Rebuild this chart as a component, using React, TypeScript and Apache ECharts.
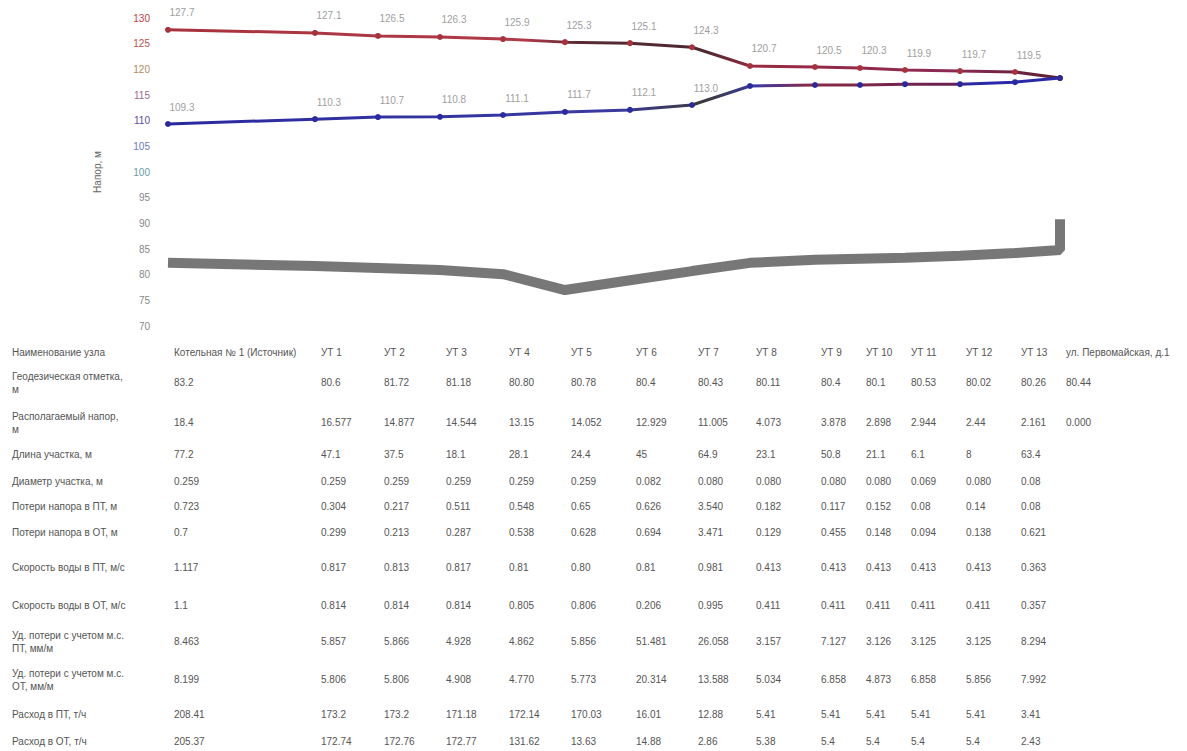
import React, { useEffect, useRef } from "react";
import * as echarts from "echarts";

const nodeNames = ["Котельная № 1 (Источник)", "УТ 1", "УТ 2", "УТ 3", "УТ 4", "УТ 5", "УТ 6", "УТ 7", "УТ 8", "УТ 9", "УТ 10", "УТ 11", "УТ 12", "УТ 13", "ул. Первомайская, д.1"];
const chainage = [0, 147, 210, 272, 335, 397, 462, 524, 582, 647, 692, 737, 792, 847, 892];
const supplyHead = [127.7, 127.1, 126.5, 126.3, 125.9, 125.3, 125.1, 124.3, 120.65, 120.45, 120.26, 119.87, 119.67, 119.48, 118.3];
const returnHead = [109.35, 110.3, 110.7, 110.75, 111.1, 111.7, 112.1, 113.05, 116.75, 116.95, 116.95, 117.1, 117.1, 117.5, 118.3];
const terrain = [82.3, 81.7, 81.3, 80.9, 80.1, 77.0, 78.9, 80.7, 82.3, 82.9, 83.1, 83.3, 83.7, 84.2, 84.8];
const terrainEnd = 90.8;
const yTickColors = ["#888", "#888", "#8a8a8a", "#888", "#888", "#888", "#6a9aa8", "#6a7ac8", "#5a4aa8", "#a06a90", "#b08a60", "#c05050", "#c04040"];

const elevation = ["83.2", "80.6", "81.72", "81.18", "80.80", "80.78", "80.4", "80.43", "80.11", "80.4", "80.1", "80.53", "80.02", "80.26", "80.44"];
const availableHead = ["18.4", "16.577", "14.877", "14.544", "13.15", "14.052", "12.929", "11.005", "4.073", "3.878", "2.898", "2.944", "2.44", "2.161", "0.000"];
const segLength = ["77.2", "47.1", "37.5", "18.1", "28.1", "24.4", "45", "64.9", "23.1", "50.8", "21.1", "6.1", "8", "63.4"];
const diameter = ["0.259", "0.259", "0.259", "0.259", "0.259", "0.259", "0.082", "0.080", "0.080", "0.080", "0.080", "0.069", "0.080", "0.08"];
const lossSupply = ["0.723", "0.304", "0.217", "0.511", "0.548", "0.65", "0.626", "3.540", "0.182", "0.117", "0.152", "0.08", "0.14", "0.08"];
const lossReturn = ["0.7", "0.299", "0.213", "0.287", "0.538", "0.628", "0.694", "3.471", "0.129", "0.455", "0.148", "0.094", "0.138", "0.621"];
const velSupply = ["1.117", "0.817", "0.813", "0.817", "0.81", "0.80", "0.81", "0.981", "0.413", "0.413", "0.413", "0.413", "0.413", "0.363"];
const velReturn = ["1.1", "0.814", "0.814", "0.814", "0.805", "0.806", "0.206", "0.995", "0.411", "0.411", "0.411", "0.411", "0.411", "0.357"];
const specSupply = ["8.463", "5.857", "5.866", "4.928", "4.862", "5.856", "51.481", "26.058", "3.157", "7.127", "3.126", "3.125", "3.125", "8.294"];
const specReturn = ["8.199", "5.806", "5.806", "4.908", "4.770", "5.773", "20.314", "13.588", "5.034", "6.858", "4.873", "6.858", "5.856", "7.992"];
const flowSupply = ["208.41", "173.2", "173.2", "171.18", "172.14", "170.03", "16.01", "12.88", "5.41", "5.41", "5.41", "5.41", "5.41", "3.41"];
const flowReturn = ["205.37", "172.74", "172.76", "172.77", "131.62", "13.63", "14.88", "2.86", "5.38", "5.4", "5.4", "5.4", "5.4", "2.43"];

const rowLabels = [
  "Наименование узла",
  "Геодезическая отметка,\nм",
  "Располагаемый напор,\nм",
  "Длина участка, м",
  "Диаметр участка, м",
  "Потери напора в ПТ, м",
  "Потери напора в ОТ, м",
  "Скорость воды в ПТ, м/с",
  "Скорость воды в ОТ, м/с",
  "Уд. потери с учетом м.с.\nПТ, мм/м",
  "Уд. потери с учетом м.с.\nОТ, мм/м",
  "Расход в ПТ, т/ч",
  "Расход в ОТ, т/ч",
];
const rowValues = [nodeNames, elevation, availableHead, segLength, diameter, lossSupply, lossReturn, velSupply, velReturn, specSupply, specReturn, flowSupply, flowReturn];
const rowY = [352, 382, 422, 454, 481, 506, 532, 567, 605, 641, 679, 714, 741];

export default function App() {
  const ref = useRef<HTMLDivElement>(null);
  useEffect(() => {
    const chart = echarts.init(ref.current!, null, { renderer: "svg" });
    const font = "'Liberation Sans', Arial, sans-serif";
    const redGrad = new echarts.graphic.LinearGradient(0, 0, 1, 0, [
      { offset: 0, color: "#a8323c" },
      { offset: 0.4, color: "#b03a48" },
      { offset: 0.46, color: "#5a2a35" },
      { offset: 0.6, color: "#4a2a30" },
      { offset: 0.66, color: "#9a2a42" },
      { offset: 0.88, color: "#8a2a55" },
      { offset: 1, color: "#5a2030" },
    ]);
    const blueGrad = new echarts.graphic.LinearGradient(0, 0, 1, 0, [
      { offset: 0, color: "#2a2aa0" },
      { offset: 0.5, color: "#3a3aa0" },
      { offset: 0.6, color: "#3a3a3a" },
      { offset: 0.66, color: "#3a3aa0" },
      { offset: 0.72, color: "#8a2a45" },
      { offset: 0.88, color: "#6a2050" },
      { offset: 0.9, color: "#2a2aa8" },
      { offset: 1, color: "#2a2aa8" },
    ]);
    const mkLabel = (maxIdx: number) => ({
      show: true,
      position: "top",
      distance: 9,
      offset: [14, 0],
      color: "#a0a0a0",
      fontSize: 10,
      fontFamily: font,
      formatter: (p: any) => (p.dataIndex <= maxIdx ? Number(p.value[1]).toFixed(1) : ""),
    });
    const option: any = {
      animation: false,
      backgroundColor: "#ffffff",
      textStyle: { fontFamily: font },
      grid: { left: 168, right: 127, top: 18, bottom: 425 },
      xAxis: { type: "value", min: 0, max: 892, show: false },
      yAxis: {
        type: "value",
        min: 70,
        max: 130,
        interval: 5,
        name: "Напор, м",
        nameLocation: "middle",
        nameGap: 66,
        nameTextStyle: { color: "#666", fontSize: 10, fontFamily: font },
        axisLine: { show: false },
        axisTick: { show: false },
        splitLine: { show: false },
        axisLabel: {
          fontSize: 10,
          margin: 18,
          fontFamily: font,
          color: (v: any, i: number) => yTickColors[i] || "#888",
        },
      },
      series: [
        {
          name: "Рельеф",
          type: "line",
          data: [...chainage.map((c, i) => [c, terrain[i]]), [chainage[chainage.length - 1], terrainEnd]],
          symbol: "none",
          lineStyle: { width: 10, color: "rgba(95,95,95,0.85)" },
          z: 1,
        },
        {
          name: "Подающий",
          type: "line",
          data: chainage.map((c, i) => [c, supplyHead[i]]),
          symbol: "circle",
          symbolSize: 6,
          itemStyle: { color: "#a8323c" },
          lineStyle: { width: 3, color: redGrad },
          label: mkLabel(13),
          z: 3,
        },
        {
          name: "Обратный",
          type: "line",
          data: chainage.map((c, i) => [c, returnHead[i]]),
          symbol: "circle",
          symbolSize: 6,
          itemStyle: { color: "#2a2aa0" },
          lineStyle: { width: 3, color: blueGrad },
          label: mkLabel(7),
          z: 3,
        },
      ],
    };
    chart.setOption(option);
    const colX = chainage.map((c) => chart.convertToPixel({ xAxisIndex: 0 }, c) as number);
    const graphic: any[] = [];
    rowLabels.forEach((lab, r) => {
      graphic.push({
        type: "text",
        left: 12,
        top: rowY[r] - (lab.includes("\n") ? 12 : 6),
        style: { text: lab, fill: "#555", fontSize: 10, fontFamily: font, lineHeight: 13 },
      });
      rowValues[r].forEach((v, i) => {
        graphic.push({
          type: "text",
          x: colX[i] + 6,
          y: rowY[r],
          style: { text: v, fill: "#555", fontSize: 10, fontFamily: font, verticalAlign: "middle", align: "left" },
        });
      });
    });
    chart.setOption({ graphic });
    return () => chart.dispose();
  }, []);
  return <div ref={ref} style={{ position: "fixed", left: 0, top: 0, width: 1187, height: 751, background: "#fff" }} />;
}
